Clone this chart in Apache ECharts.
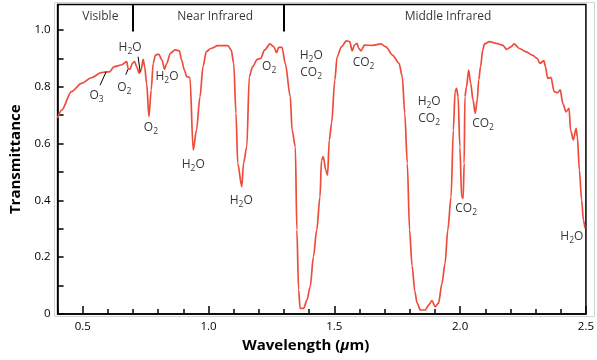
<!DOCTYPE html>
<html><head><meta charset="utf-8">
<script src="https://cdn.jsdelivr.net/npm/echarts@6/dist/echarts.min.js"></script>
<style>html,body{margin:0;padding:0;background:#fff}#c{width:597px;height:360px}</style>
</head><body><div id="c"></div>
<script>
// ---- data ----
const wavelength = [0.400,0.416,0.455,0.495,0.534,0.573,0.593,0.606,0.625,0.652,0.675,0.680,0.688,0.697,0.706,0.714,0.725,0.732,0.740,0.746,0.754,0.763,0.772,0.780,0.789,0.802,0.815,0.825,0.834,0.848,0.867,0.884,0.893,0.904,0.913,0.926,0.939,0.952,0.966,0.978,0.991,1.011,1.037,1.077,1.090,1.100,1.109,1.116,1.132,1.139,1.152,1.162,1.175,1.194,1.207,1.223,1.244,1.260,1.270,1.279,1.292,1.305,1.325,1.332,1.345,1.351,1.358,1.364,1.378,1.391,1.404,1.417,1.430,1.443,1.449,1.456,1.466,1.473,1.480,1.489,1.502,1.511,1.528,1.548,1.561,1.571,1.580,1.590,1.597,1.606,1.620,1.652,1.685,1.705,1.731,1.757,1.770,1.780,1.790,1.799,1.809,1.820,1.829,1.842,1.862,1.875,1.888,1.901,1.914,1.928,1.940,1.951,1.964,1.973,1.980,1.986,1.992,1.999,2.006,2.012,2.016,2.019,2.025,2.034,2.042,2.051,2.060,2.068,2.074,2.081,2.090,2.097,2.117,2.143,2.169,2.185,2.202,2.215,2.234,2.261,2.287,2.306,2.317,2.333,2.339,2.348,2.361,2.374,2.387,2.398,2.408,2.421,2.433,2.439,2.450,2.461,2.466,2.474,2.483,2.490,2.496];
const transmittance = [0.690,0.718,0.783,0.812,0.832,0.850,0.853,0.853,0.871,0.877,0.889,0.865,0.862,0.883,0.889,0.871,0.848,0.859,0.897,0.871,0.812,0.695,0.789,0.883,0.912,0.915,0.894,0.862,0.883,0.918,0.930,0.927,0.894,0.859,0.836,0.833,0.577,0.648,0.765,0.871,0.924,0.936,0.945,0.945,0.930,0.883,0.707,0.531,0.448,0.531,0.589,0.836,0.871,0.897,0.900,0.930,0.951,0.941,0.920,0.939,0.939,0.883,0.765,0.648,0.589,0.296,0.085,0.020,0.020,0.049,0.096,0.202,0.296,0.413,0.542,0.554,0.507,0.489,0.613,0.671,0.824,0.906,0.941,0.962,0.959,0.927,0.947,0.953,0.936,0.927,0.947,0.946,0.951,0.941,0.912,0.883,0.836,0.707,0.531,0.296,0.170,0.080,0.038,0.014,0.014,0.032,0.047,0.026,0.038,0.108,0.178,0.296,0.413,0.648,0.783,0.795,0.765,0.589,0.413,0.407,0.531,0.765,0.799,0.859,0.812,0.754,0.707,0.754,0.824,0.870,0.930,0.951,0.959,0.953,0.947,0.932,0.941,0.951,0.936,0.924,0.912,0.900,0.883,0.892,0.871,0.830,0.833,0.783,0.779,0.789,0.742,0.712,0.724,0.648,0.613,0.654,0.624,0.507,0.401,0.331,0.302];

const xTickLabels = [0.5, 1.0, 1.5, 2.0, 2.5];
const yTickLabels = [0, 0.2, 0.4, 0.6, 0.8, 1.0];

const bandNames = ['Visible', 'Near Infrared', 'Middle Infrared'];
const bandLabelX = [0.570, 1.026, 1.952];
const bandLabelY = [1.046, 1.046, 1.046];
const bandEdges = [0.7, 1.3];

const annotationText = ['O{s|3}', 'O{s|2}', 'H{s|2}O', 'O{s|2}', 'H{s|2}O', 'H{s|2}O', 'H{s|2}O', 'O{s|2}',
  'H{s|2}O\nCO{s|2}', 'CO{s|2}', 'H{s|2}O\nCO{s|2}', 'CO{s|2}', 'CO{s|2}', 'H{s|2}O'];
const annotationX = [0.555, 0.665, 0.688, 0.771, 0.835, 0.939, 1.130, 1.241, 1.408, 1.616, 1.877, 2.024, 2.091, 2.444];
const annotationY = [0.768, 0.796, 0.940, 0.658, 0.835, 0.525, 0.401, 0.870, 0.880, 0.886, 0.718, 0.371, 0.669, 0.271];

// leader lines: [x1, y1, x2, y2]
const leaderLines = [
  [0.593, 0.853, 0.569, 0.806],
  [0.680, 0.862, 0.671, 0.843],
  [0.720, 0.906, 0.728, 0.854]
];

// ---- chart ----
const FONT = "'Open Sans', 'Noto Sans', sans-serif";
const minorTicks = [];
for (let k = 4; k <= 25; k++) { if (k % 5) minorTicks.push(k / 10); }
const yTicks = [];
for (let k = 0; k <= 10; k++) yTicks.push(k / 10);

const chart = echarts.init(document.getElementById('c'), null, {renderer: 'canvas'});
const richSub = {
  s: {fontSize: 8.5, fontFamily: FONT, color: '#000', padding: [8, 0, 0, 0], lineHeight: 17}
};

const markLines = leaderLines.map(l => [
  {coord: [l[0], l[1]], lineStyle: {color: '#000', width: 1, type: 'solid'}},
  {coord: [l[2], l[3]]}
]);
bandEdges.forEach(e => markLines.push([
  {coord: [e, 0.995], lineStyle: {color: '#000', width: 2, type: 'solid'}},
  {coord: [e, 1.09]}
]));

chart.setOption({
  animation: false,
  backgroundColor: '#fff',
  textStyle: {fontFamily: FONT},
  graphic: [{
    type: 'rect', z: -10, silent: true,
    shape: {x: 54.5, y: 2.5, width: 540, height: 314},
    style: {fill: 'none', stroke: '#d4d4d4', lineWidth: 1}
  }],
  grid: {left: 57.6, right: 4.3, top: 4.5, bottom: 46, show: true, borderColor: '#000', borderWidth: 1.5, backgroundColor: 'transparent'},
  xAxis: [{
    type: 'value', min: 0.4, max: 2.5, position: 'bottom',
    name: 'Wavelength ({i|μ}m)', nameLocation: 'middle', nameGap: 19,
    nameTextStyle: {fontSize: 15, fontWeight: 'bold', color: '#000', fontFamily: FONT, padding: [0, 32, 0, 0],
      rich: {i: {fontSize: 15, fontWeight: 'bold', fontStyle: 'italic', color: '#000', fontFamily: FONT}}},
    axisLine: {show: true, onZero: false, lineStyle: {color: '#000', width: 1.5}},
    axisTick: {show: true, inside: true, length: 8, customValues: xTickLabels, lineStyle: {color: '#000', width: 1.5}},
    axisLabel: {show: true, customValues: xTickLabels, margin: 7, fontSize: 11.5, color: '#000', fontFamily: FONT, formatter: v => v.toFixed(1)},
    splitLine: {show: false}
  }, {
    type: 'value', min: 0.4, max: 2.5, position: 'bottom', gridIndex: 0,
    axisLine: {show: false},
    axisTick: {show: true, inside: true, length: 5, customValues: minorTicks, lineStyle: {color: '#000', width: 1.5}},
    axisLabel: {show: false},
    splitLine: {show: false}
  }],
  yAxis: {
    type: 'value', min: 0, max: 1.09,
    name: 'Transmittance', nameLocation: 'middle', nameGap: 26,
    nameTextStyle: {fontSize: 15, fontWeight: 'bold', color: '#000', fontFamily: FONT},
    axisLine: {show: true, onZero: false, lineStyle: {color: '#000', width: 1.5}},
    axisTick: {show: true, inside: true, length: 6, customValues: yTicks, lineStyle: {color: '#000', width: 1.5}},
    axisLabel: {show: true, customValues: yTickLabels, margin: 7, fontSize: 11.5, color: '#000', fontFamily: FONT,
      formatter: v => v === 0 ? '0' : v.toFixed(1)},
    splitLine: {show: false}
  },
  series: [{
    type: 'line',
    data: wavelength.map((w, i) => [w, transmittance[i]]),
    showSymbol: false, smooth: 0.3, smoothMonotone: 'x',
    lineStyle: {color: '#ee4c3b', width: 1.7},
    z: 3,
    markLine: {silent: true, symbol: ['none', 'none'], label: {show: false}, animation: false, data: markLines}
  }, {
    type: 'scatter',
    data: annotationX.map((x, i) => [x, annotationY[i]]),
    symbol: 'circle', symbolSize: 1, itemStyle: {color: 'rgba(0,0,0,0)'},
    silent: true, z: 4,
    label: {show: true, position: 'inside', fontSize: 12, color: '#000', fontFamily: FONT, lineHeight: 17,
      formatter: p => annotationText[p.dataIndex], rich: richSub}
  }, {
    type: 'scatter',
    data: bandLabelX.map((x, i) => [x, bandLabelY[i]]),
    symbol: 'circle', symbolSize: 1, itemStyle: {color: 'rgba(0,0,0,0)'},
    silent: true, z: 4,
    label: {show: true, position: 'inside', fontSize: 12, color: '#000', fontFamily: FONT,
      formatter: p => bandNames[p.dataIndex]}
  }]
});
</script></body></html>
